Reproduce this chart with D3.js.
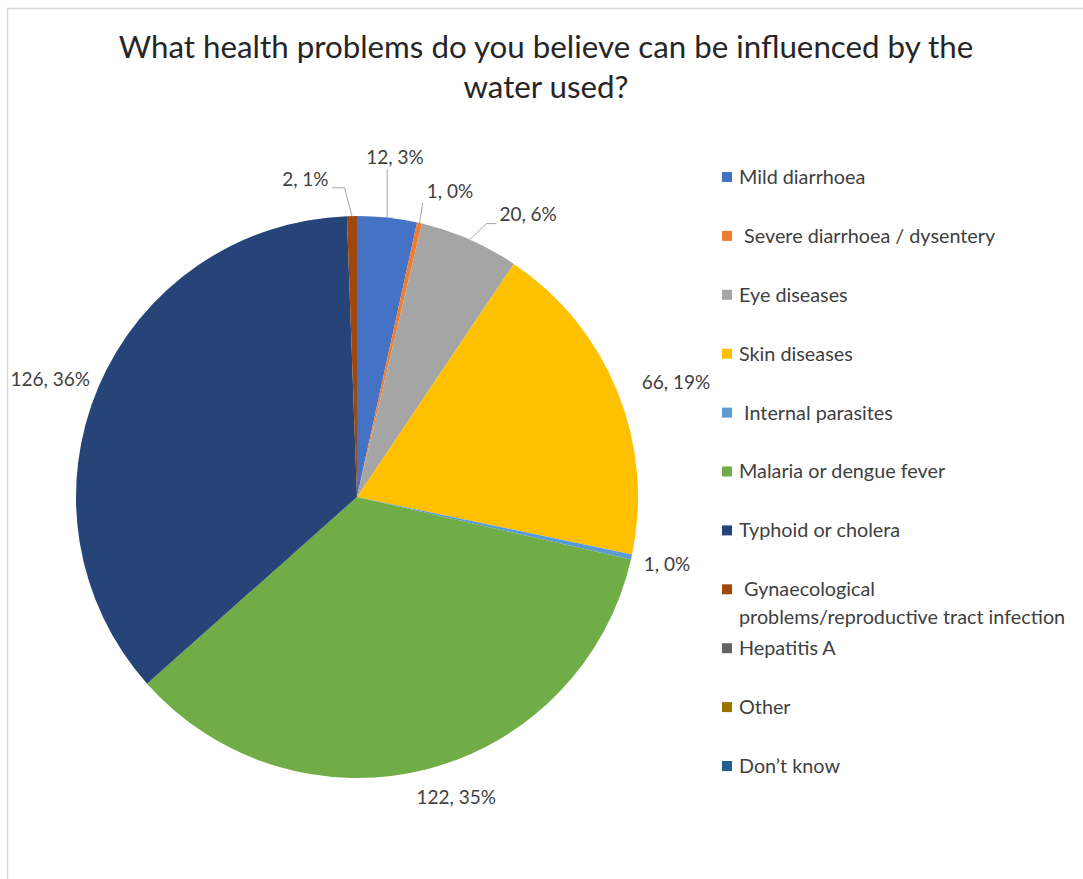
<!DOCTYPE html>
<html><head><meta charset="utf-8">
<script src="https://cdn.jsdelivr.net/npm/d3@7"></script>
<style>
html,body{margin:0;padding:0;background:#fff;}
svg{display:block;}
text{font-family:Lato,"Open Sans",sans-serif;}
</style></head><body>
<svg id="chart" width="1083" height="879"></svg>
<script>
// ---------- data ----------
const titleLines = ["What health problems do you believe can be influenced by the", "water used?"];
const categories = ["Mild diarrhoea", " Severe diarrhoea / dysentery", "Eye diseases", "Skin diseases",
  " Internal parasites", "Malaria or dengue fever", "Typhoid or cholera",
  " Gynaecological|problems/reproductive tract infection", "Hepatitis A", "Other", "Don\u2019t know"];
const counts = [12, 1, 20, 66, 1, 122, 126, 2, 0, 0, 0];
const colors = ["#4472C4", "#ED7D31", "#A5A5A5", "#FFC000", "#5B9BD5", "#70AD47", "#264478",
  "#9E480E", "#636363", "#997300", "#255E91"];

// ---------- layout (label placement relative to slice mid-angle) ----------
const labelLayout = [
  {da: 0.2, rr: 1.217, leader: "below"},
  {da: 4.05, rr: 1.138, leader: "corner"},
  {da: 7.5, rr: 1.177, leader: "elbowLeft"},
  {da: 2.3, rr: 1.207, leader: null},
  {da: -0.1, rr: 1.129, leader: null},
  {da: -3.9, rr: 1.124, leader: null},
  {da: -2.2, rr: 1.169, leader: null},
  {da: -8.2, rr: 1.146, leader: "elbowRight"},
  null, null, null
];

const W = 1083, H = 879;
const cx = 357, cy = 497, R = 281;
const svg = d3.select("#chart");

// frame
svg.append("rect").attr("x", 7.5).attr("y", 8.5).attr("width", W + 20).attr("height", H + 20)
  .attr("fill", "#fff").attr("stroke", "#d9d9d9").attr("stroke-width", 1.5);

// title
svg.append("g").selectAll("text").data(titleLines).join("text")
  .attr("x", 546).attr("y", (d, i) => 58 + i * 40)
  .attr("text-anchor", "middle").attr("font-size", 31.3).attr("fill", "#262626")
  .text(d => d);

// pie
const data = categories.map((c, i) => ({name: c, count: counts[i], color: colors[i], i}));
const total = d3.sum(counts);
const pct = d3.format(".0%");
const pie = d3.pie().sort(null).value(d => d.count).startAngle(0).endAngle(2 * Math.PI);
const arcs = pie(data);
const arc = d3.arc().innerRadius(0).outerRadius(R);
const g = svg.append("g").attr("transform", `translate(${cx},${cy})`);
g.selectAll("path").data(arcs.filter(a => a.data.count > 0)).join("path")
  .attr("d", arc).attr("fill", d => d.data.color);

// data labels
const lg = svg.append("g");
arcs.forEach(a => {
  const lay = labelLayout[a.data.i];
  if (!lay || a.data.count === 0) return;
  const mid = (a.startAngle + a.endAngle) / 2;
  const ang = mid + lay.da * Math.PI / 180;
  const dist = lay.rr * R;
  const x = cx + dist * Math.sin(ang), y = cy - dist * Math.cos(ang);
  const t = lg.append("text").attr("x", x).attr("y", y).attr("dy", "0.35em")
    .attr("text-anchor", "middle").attr("font-size", 19).attr("fill", "#404040")
    .text(`${a.data.count}, ${pct(a.data.count / total)}`);
  if (lay.leader) {
    const b = t.node().getBBox();
    const p0 = [cx + R * Math.sin(mid), cy - R * Math.cos(mid)];
    let pts;
    if (lay.leader === "below") {
      pts = [p0, [Math.max(b.x, Math.min(b.x + b.width, p0[0])), b.y + b.height + 1]];
    } else if (lay.leader === "corner") {
      pts = [p0, [b.x - 4, b.y + b.height + 1]];
    } else if (lay.leader === "elbowLeft") {
      const p2 = [b.x - 3, b.y + b.height - 1];
      pts = [p0, [p2[0] - 10, p2[1]], p2];
    } else {
      const p2 = [b.x + b.width + 4, b.y + b.height - 2];
      pts = [p0, [p2[0] + 12, p2[1]], p2];
    }
    lg.append("path").attr("d", d3.line()(pts)).attr("fill", "none")
      .attr("stroke", "#a6a6a6").attr("stroke-width", 1);
  }
});

// legend
const leg = svg.append("g");
const y0 = 177, step = 58.9;
data.forEach((d, i) => {
  const y = y0 + i * step;
  leg.append("rect").attr("x", 722).attr("y", y - 5).attr("width", 10).attr("height", 10).attr("fill", d.color);
  const lines = d.name.split("|");
  const t = leg.append("text").attr("font-size", 19.8).attr("fill", "#404040").style("white-space", "pre");
  lines.forEach((ln, j) => {
    t.append("tspan").attr("x", 739).attr("y", y + j * 28).attr("dy", "0.35em").text(ln);
  });
});
</script>
</body></html>
